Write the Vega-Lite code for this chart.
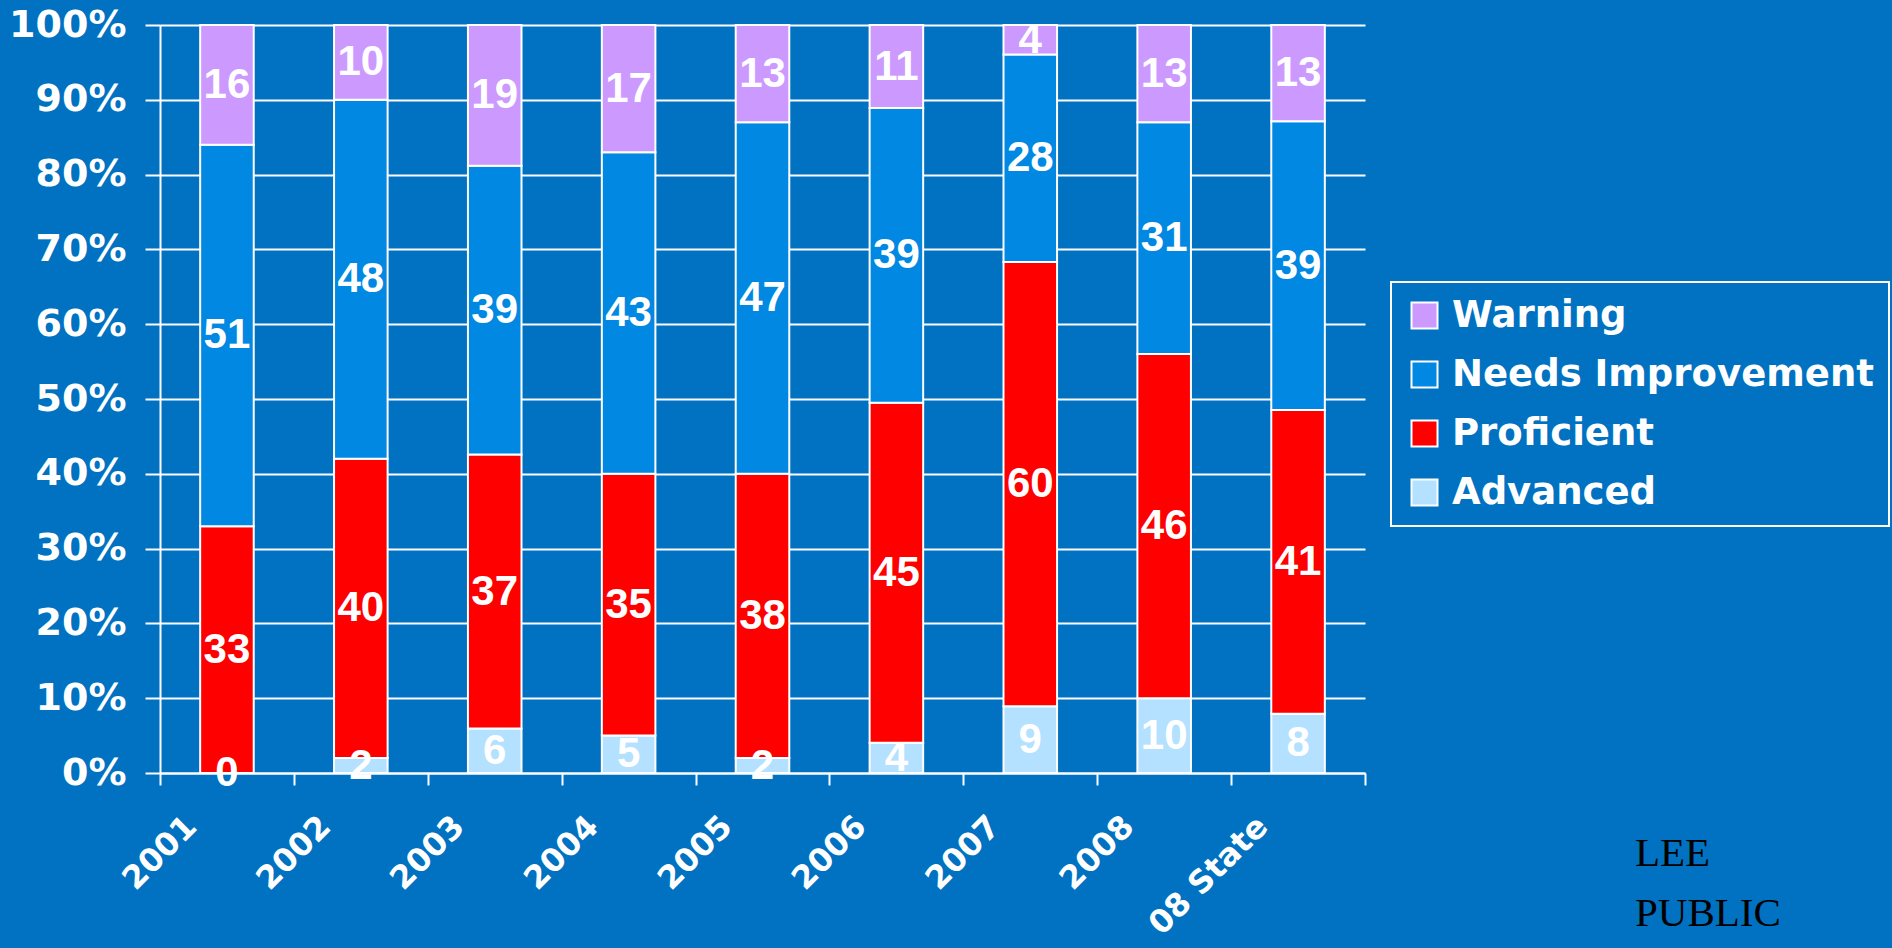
{
  "$schema": "https://vega.github.io/schema/vega-lite/v6.json",
  "width": 1205,
  "height": 748,
  "autosize": {"type": "none"},
  "padding": {"left": 160, "top": 25, "right": 527, "bottom": 175},
  "background": "#0072C1",
  "config": {"view": {"stroke": null}},
  "title": {
    "text": ["LEE", "PUBLIC"],
    "orient": "bottom",
    "anchor": "end",
    "align": "left",
    "frame": "group",
    "font": "Liberation Serif",
    "fontSize": 41,
    "fontWeight": "normal",
    "color": "black",
    "lineHeight": 60,
    "dx": 270,
    "dy": -110
  },
  "data": {
    "values": [
      {"year": "2001", "level": "Advanced", "rank": 4, "value": 0},
      {"year": "2001", "level": "Proficient", "rank": 3, "value": 33},
      {"year": "2001", "level": "Needs Improvement", "rank": 2, "value": 51},
      {"year": "2001", "level": "Warning", "rank": 1, "value": 16},
      {"year": "2002", "level": "Advanced", "rank": 4, "value": 2},
      {"year": "2002", "level": "Proficient", "rank": 3, "value": 40},
      {"year": "2002", "level": "Needs Improvement", "rank": 2, "value": 48},
      {"year": "2002", "level": "Warning", "rank": 1, "value": 10},
      {"year": "2003", "level": "Advanced", "rank": 4, "value": 6},
      {"year": "2003", "level": "Proficient", "rank": 3, "value": 37},
      {"year": "2003", "level": "Needs Improvement", "rank": 2, "value": 39},
      {"year": "2003", "level": "Warning", "rank": 1, "value": 19},
      {"year": "2004", "level": "Advanced", "rank": 4, "value": 5},
      {"year": "2004", "level": "Proficient", "rank": 3, "value": 35},
      {"year": "2004", "level": "Needs Improvement", "rank": 2, "value": 43},
      {"year": "2004", "level": "Warning", "rank": 1, "value": 17},
      {"year": "2005", "level": "Advanced", "rank": 4, "value": 2},
      {"year": "2005", "level": "Proficient", "rank": 3, "value": 38},
      {"year": "2005", "level": "Needs Improvement", "rank": 2, "value": 47},
      {"year": "2005", "level": "Warning", "rank": 1, "value": 13},
      {"year": "2006", "level": "Advanced", "rank": 4, "value": 4},
      {"year": "2006", "level": "Proficient", "rank": 3, "value": 45},
      {"year": "2006", "level": "Needs Improvement", "rank": 2, "value": 39},
      {"year": "2006", "level": "Warning", "rank": 1, "value": 11},
      {"year": "2007", "level": "Advanced", "rank": 4, "value": 9},
      {"year": "2007", "level": "Proficient", "rank": 3, "value": 60},
      {"year": "2007", "level": "Needs Improvement", "rank": 2, "value": 28},
      {"year": "2007", "level": "Warning", "rank": 1, "value": 4},
      {"year": "2008", "level": "Advanced", "rank": 4, "value": 10},
      {"year": "2008", "level": "Proficient", "rank": 3, "value": 46},
      {"year": "2008", "level": "Needs Improvement", "rank": 2, "value": 31},
      {"year": "2008", "level": "Warning", "rank": 1, "value": 13},
      {"year": "08 State", "level": "Advanced", "rank": 4, "value": 8},
      {"year": "08 State", "level": "Proficient", "rank": 3, "value": 41},
      {"year": "08 State", "level": "Needs Improvement", "rank": 2, "value": 39},
      {"year": "08 State", "level": "Warning", "rank": 1, "value": 13}
    ]
  },
  "encoding": {
    "x": {
      "field": "year",
      "type": "nominal",
      "sort": null,
      "scale": {"paddingInner": 0, "paddingOuter": 0},
      "axis": {
        "title": null,
        "labelAngle": -45,
        "labelAlign": "right",
        "labelBaseline": "middle",
        "labelOffset": -36,
        "labelPadding": 36,
        "labelFont": "DejaVu Sans",
        "labelFontWeight": "bold",
        "labelFontSize": 32,
        "labelColor": "white",
        "tickBand": "extent",
        "tickColor": "white",
        "tickSize": 12,
        "tickWidth": 2,
        "domainColor": "white",
        "domainWidth": 2,
        "grid": false
      }
    },
    "y": {
      "field": "value",
      "type": "quantitative",
      "stack": "normalize",
      "scale": {"domain": [0, 1], "nice": false},
      "axis": {
        "title": null,
        "format": ".0%",
        "values": [0, 0.1, 0.2, 0.3, 0.4, 0.5, 0.6, 0.7, 0.8, 0.9, 1],
        "labelFont": "DejaVu Sans",
        "labelFontWeight": "bold",
        "labelFontSize": 38,
        "labelColor": "white",
        "labelPadding": 19,
        "tickColor": "white",
        "tickSize": 15,
        "tickWidth": 2,
        "domainColor": "white",
        "domainWidth": 2,
        "grid": true,
        "gridColor": "white",
        "gridWidth": 2,
        "gridOpacity": 1
      }
    },
    "order": {"field": "rank", "type": "quantitative", "sort": "descending"},
    "detail": {"field": "level"}
  },
  "layer": [
    {
      "mark": {"type": "bar", "width": {"band": 0.4}, "stroke": "white", "strokeWidth": 2},
      "encoding": {
        "color": {
          "field": "level",
          "type": "nominal",
          "scale": {
            "domain": ["Warning", "Needs Improvement", "Proficient", "Advanced"],
            "range": ["#CC99FF", "#0088E2", "#FF0000", "#B3E1FF"]
          },
          "legend": {
            "orient": "none",
            "legendX": 1231,
            "legendY": 257,
            "title": null,
            "symbolType": "square",
            "symbolSize": 676,
            "symbolStrokeColor": "white",
            "symbolStrokeWidth": 2,
            "symbolOpacity": 1,
            "labelFont": "DejaVu Sans",
            "labelFontWeight": "bold",
            "labelFontSize": 37,
            "labelColor": "white",
            "labelOffset": 9,
            "labelLimit": 800,
            "rowPadding": 21,
            "padding": 15,
            "strokeColor": "white",
            "encode": {"legend": {"update": {"strokeWidth": {"value": 2}}}}
          }
        }
      }
    },
    {
      "mark": {
        "type": "text",
        "font": "Liberation Sans",
        "fontWeight": "bold",
        "fontSize": 42,
        "color": "white",
        "align": "center",
        "baseline": "middle"
      },
      "encoding": {
        "y": {"field": "value", "type": "quantitative", "stack": "normalize", "bandPosition": 0.5},
        "text": {"field": "value", "type": "quantitative"}
      }
    }
  ]
}
